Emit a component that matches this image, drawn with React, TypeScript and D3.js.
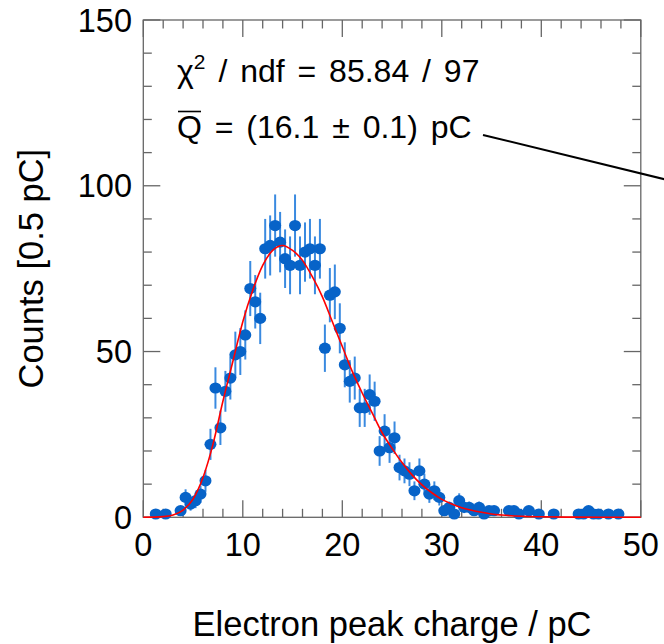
import React from "react";
import * as d3 from "d3";

const binCenters = [
  1.25, 2.25, 3.75, 4.25, 4.75, 5.25, 5.75, 6.25, 6.75, 7.25, 7.75, 8.25, 8.75, 9.25, 9.75,
  10.25, 10.75, 11.25, 11.75, 12.25, 12.75, 13.25, 13.75, 14.25, 14.75, 15.25, 15.75,
  16.25, 16.75, 17.25, 17.75, 18.25, 18.75, 19.25, 19.75, 20.25, 20.75, 21.25, 21.75,
  22.25, 22.75, 23.25, 23.75, 24.25, 24.75, 25.25, 25.75, 26.25, 26.75, 27.25, 27.75,
  28.25, 28.75, 29.25, 29.75, 30.25, 30.75, 31.25, 31.75, 32.25, 32.75, 33.25, 33.75,
  34.25, 34.75, 35.25, 36.75, 37.25, 37.75, 38.75, 39.75, 41.25, 43.75, 44.25, 44.75,
  45.25, 45.75, 46.75, 47.75,
];
const counts = [
  1, 1, 2, 6, 4, 5, 7, 11, 22, 39, 27, 38, 42, 49, 50,
  55, 69, 65, 60, 81, 82, 88, 83, 78, 76, 88, 76,
  80, 81, 76, 81, 51, 67, 68, 57, 46, 41, 42, 33,
  33, 37, 35, 20, 26, 21, 24, 15, 14, 13, 8, 14,
  10, 7, 8, 6, 2, 3, 1, 5, 3, 3, 2, 3,
  1, 2, 2, 2, 2, 1, 2, 1, 1, 1, 1, 2,
  1, 1, 1, 1,
];

// fitted curve
const fitX = [0, 2, 3, 4, 5, 6, 7, 8, 9, 10, 11, 12, 13, 14, 15, 16, 17, 18, 19, 20, 21, 22, 23, 24, 25, 26, 27, 28, 29, 30, 31, 32, 33, 34, 35, 36, 38, 40, 43, 46, 50];
const fitY = [0, 0.2, 0.7, 2.2, 5.5, 12, 22, 35, 47, 59, 68.5, 76, 80.5, 82, 80.5, 77.5, 72.5, 66.5, 59, 51.5, 44, 37.5, 31.5, 25.5, 20.8, 16.5, 12.8, 9.8, 7.4, 5.4, 4, 2.9, 2.1, 1.5, 1, 0.7, 0.3, 0.15, 0.05, 0, 0];

const xTicks = [0, 10, 20, 30, 40, 50];
const yTicks = [0, 50, 100, 150];
const xTitle = "Electron peak charge / pC";
const yTitle = "Counts [0.5 pC]";

export default function App() {
  const W = 664, H = 644;
  const L = 143.3, R = 640.8, T = 20, B = 517.3;
  const x = d3.scaleLinear().domain([0, 50]).range([L, R]);
  const y = d3.scaleLinear().domain([0, 150]).range([B, T]);
  const font = "'Liberation Sans', Arial, Helvetica, sans-serif";
  const frame = "#666";
  const majorLen = 17, minorLen = 8.5;

  const xMinor = d3.range(0, 50.001, 2).filter((v) => v % 10 !== 0);
  const yMinor = d3.range(0, 150.001, 10).filter((v) => v % 50 !== 0);

  const line = d3
    .line<number>()
    .x((_, i) => x(fitX[i]))
    .y((_, i) => y(fitY[i]))
    .curve(d3.curveMonotoneX);

  const pts = binCenters.map((c, i) => ({ c, n: counts[i], e: Math.sqrt(counts[i]) }));

  return (
    <svg width={W} height={H} style={{ position: "absolute", left: 0, top: 0, background: "#fff" }} fontFamily={font}>
      <rect x={0} y={0} width={W} height={H} fill="#fff" />
      {/* frame */}
      <rect x={L} y={T} width={R - L} height={B - T} fill="none" stroke={frame} strokeWidth={1.3} />
      {/* x ticks */}
      {xTicks.map((v) => (
        <g key={"xt" + v}>
          <line x1={x(v)} x2={x(v)} y1={B} y2={B - majorLen} stroke={frame} strokeWidth={1.3} />
          <line x1={x(v)} x2={x(v)} y1={T} y2={T + majorLen} stroke={frame} strokeWidth={1.3} />
          <text x={x(v)} y={556} textAnchor="middle" fontSize={32.5} fill="#000">{v}</text>
        </g>
      ))}
      {xMinor.map((v) => (
        <g key={"xm" + v}>
          <line x1={x(v)} x2={x(v)} y1={B} y2={B - minorLen} stroke={frame} strokeWidth={1.3} />
          <line x1={x(v)} x2={x(v)} y1={T} y2={T + minorLen} stroke={frame} strokeWidth={1.3} />
        </g>
      ))}
      {/* y ticks */}
      {yTicks.map((v) => (
        <g key={"yt" + v}>
          <line x1={L} x2={L + majorLen} y1={y(v)} y2={y(v)} stroke={frame} strokeWidth={1.3} />
          <line x1={R} x2={R - majorLen} y1={y(v)} y2={y(v)} stroke={frame} strokeWidth={1.3} />
          <text x={132} y={y(v) + 11.5} textAnchor="end" fontSize={32.5} fill="#000">{v}</text>
        </g>
      ))}
      {yMinor.map((v) => (
        <g key={"ym" + v}>
          <line x1={L} x2={L + minorLen} y1={y(v)} y2={y(v)} stroke={frame} strokeWidth={1.3} />
          <line x1={R} x2={R - minorLen} y1={y(v)} y2={y(v)} stroke={frame} strokeWidth={1.3} />
        </g>
      ))}
      {/* error bars */}
      {pts.map((p, i) => (
        <line key={"e" + i} x1={x(p.c)} x2={x(p.c)} y1={y(Math.max(0, p.n - p.e))} y2={y(p.n + p.e)} stroke="#3a8ae0" strokeWidth={2} />
      ))}
      {/* markers */}
      {pts.map((p, i) => (
        <ellipse key={"m" + i} cx={x(p.c)} cy={y(p.n)} rx={6} ry={5.6} fill="#0763c8" />
      ))}
      {/* fit */}
      <path d={line(fitX) || ""} fill="none" stroke="#ff0000" strokeWidth={1.6} />
      {/* stats */}
      <text x={177} y={82} fontSize={32} fill="#000" wordSpacing={4}>
        {"χ"}
        <tspan dy={-13} fontSize={21}>2</tspan>
        <tspan dy={13}>{" / ndf = 85.84 / 97"}</tspan>
      </text>
      <text x={177} y={138} fontSize={32} fill="#000" wordSpacing={4}>
        {"Q = (16.1 ± 0.1) pC"}
      </text>
      <line x1={178} x2={201} y1={111.5} y2={111.5} stroke="#000" strokeWidth={1.6} />
      <line x1={483} y1={135} x2={680} y2={183} stroke="#000" strokeWidth={2} />
      {/* axis titles */}
      <text x={(L + R) / 2} y={636} textAnchor="middle" fontSize={34.5} fill="#000">{xTitle}</text>
      <text transform={`translate(43, ${(T + B) / 2}) rotate(-90)`} textAnchor="middle" fontSize={34.5} fill="#000">{yTitle}</text>
    </svg>
  );
}
